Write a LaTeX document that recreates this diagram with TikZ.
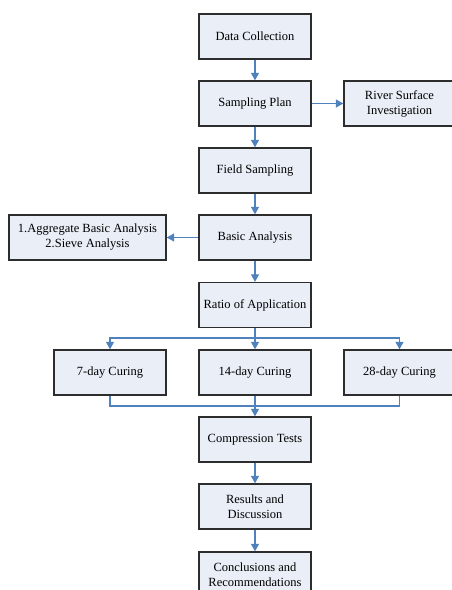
\documentclass[tikz,border=0pt]{standalone}
\usepackage{fontspec}
\setmainfont{Liberation Serif}
\usetikzlibrary{arrows.meta}
\definecolor{boxfill}{RGB}{233,238,247}
\definecolor{boxline}{RGB}{45,45,45}
\definecolor{arrowblue}{RGB}{79,129,189}
\begin{document}
\begin{tikzpicture}[x=1pt,y=-1pt,
  box/.style={draw=boxline, fill=boxfill, line width=1.4pt, minimum width=112pt,
    minimum height=45pt, inner sep=0pt, align=center,
    font=\fontsize{12.5}{15}\selectfont},
  conn/.style={draw=arrowblue, line width=1.1pt},
  arr/.style={conn, -{Triangle[length=7.5pt,width=8pt]}}]
\useasboundingbox (0,0) rectangle (452,590);
\clip (0,0) rectangle (452,590);
\fill[white] (0,0) rectangle (452,590);
\node[box] (dc) at (255,36.5) {Data Collection};
\node[box] (sp) at (255,103.5) {Sampling Plan};
\node[box, minimum width=111pt] (rs) at (399.5,103.5) {River Surface\\Investigation};
\node[box] (fs) at (255,170.5) {Field Sampling};
\node[box] (ba) at (255,237.5) {Basic Analysis};
\node[box, minimum width=157pt] (ag) at (87.5,237.5) {1.Aggregate Basic Analysis\\2.Sieve Analysis};
\node[box] (ra) at (255,305) {Ratio of Application};
\node[box] (c7) at (110,372.5) {7-day Curing};
\node[box] (c14) at (255,372.5) {14-day Curing};
\node[box, minimum width=111pt] (c28) at (399.5,372.5) {28-day Curing};
\node[box] (ct) at (255,439.5) {Compression Tests};
\node[box] (rd) at (255,506.5) {Results and\\Discussion};
\node[box] (cr) at (255,574.5) {Conclusions and\\Recommendations};
\coordinate (split) at (255,338);
\coordinate (merge) at (255,406);
\draw[arr] (dc) -- (sp);
\draw[arr] (sp) -- (rs);
\draw[arr] (sp) -- (fs);
\draw[arr] (fs) -- (ba);
\draw[arr] (ba) -- (ag);
\draw[arr] (ba) -- (ra);
\draw[conn] (ra.south) -- (split);
\draw[arr] (split) -| (c7.north);
\draw[arr] (split) -- (c14.north);
\draw[arr] (split) -| (c28.north);
\draw[conn] (c7.south) |- (merge);
\draw[conn] (c28.south) |- (merge);
\draw[arr] (c14.south) -- (ct.north);
\draw[arr] (ct) -- (rd);
\draw[arr] (rd) -- (cr);
\end{tikzpicture}
\end{document}
